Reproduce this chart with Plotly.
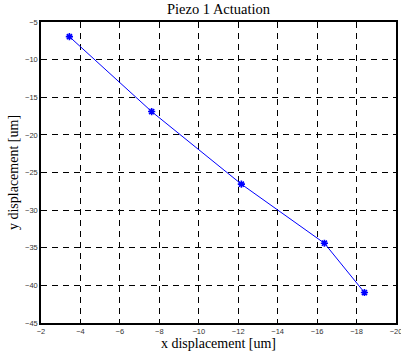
import plotly.graph_objects as go

x_disp = [-3.44, -7.61, -12.16, -16.37, -18.4]
y_disp = [-6.95, -16.9, -26.55, -34.4, -40.95]
x_ticks = [-2, -4, -6, -8, -10, -12, -14, -16, -18, -20]
y_ticks = [-5, -10, -15, -20, -25, -30, -35, -40, -45]

fig = go.Figure()
fig.add_trace(go.Scatter(
    x=x_disp, y=y_disp, mode="lines+markers",
    line=dict(color="#0000ff", width=1),
    marker=dict(symbol="asterisk-open", size=6, color="#0000ff",
                line=dict(color="#0000ff", width=1.6)),
    showlegend=False))

axis_common = dict(
    showline=True, linecolor="black", linewidth=1.5, mirror=True,
    showgrid=True, gridcolor="black", gridwidth=1, griddash="6px,5px",
    ticks="inside", ticklen=4, tickcolor="black",
    tickfont=dict(family="Liberation Sans, Arial", size=7.5, color="#333333"),
    zeroline=False, automargin=False, ticklabeloverflow="allow",
    title_font=dict(family="Liberation Serif, Times New Roman", size=14, color="black"),
)

fig.update_xaxes(range=[-2, -20], tickvals=x_ticks,
                 title_text="x displacement [um]", title_standoff=3, **axis_common)
fig.update_yaxes(range=[-45, -5], tickvals=y_ticks,
                 title_text="y displacement [um]", title_standoff=3, **axis_common)

fig.update_layout(
    width=401, height=358,
    margin=dict(l=41, r=5, t=22, b=35),
    paper_bgcolor="white", plot_bgcolor="white",
    title=dict(text="Piezo 1 Actuation", x=0.545, xanchor="center", y=0.988, yanchor="top",
               font=dict(family="Liberation Serif, Times New Roman", size=14.5, color="black")),
)

fig.write_html("out.html", config={"displayModeBar": False},
               post_script="document.body.style.margin='0';document.body.style.padding='0';")
